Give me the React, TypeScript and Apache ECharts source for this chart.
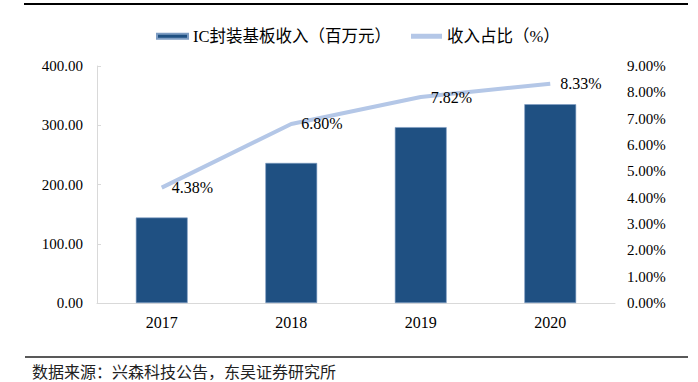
import React, { useEffect, useRef } from "react";
import * as echarts from "echarts";

const categories = ["2017", "2018", "2019", "2020"];
const revenue = [144.2, 236.4, 296.8, 335.5];
const share = [4.38, 6.8, 7.82, 8.33];
const leftTicks = { min: 0, max: 400, interval: 100 };
const rightTicks = { min: 0, max: 9, interval: 1 };
const barName = "IC封装基板收入（百万元）";
const lineName = "收入占比（%）";
const sourceText = "数据来源：兴森科技公告，东吴证券研究所";

const FONT = "'Liberation Serif', 'Times New Roman', 'Noto Sans CJK SC', serif";

export default function App() {
  const ref = useRef<HTMLDivElement>(null);
  useEffect(() => {
    if (!ref.current) return;
    const chart = echarts.init(ref.current, null, { renderer: "svg" });
    chart.setOption({
      animation: false,
      backgroundColor: "#ffffff",
      textStyle: { fontFamily: FONT },
      legend: {
        left: 151,
        top: 23,
        itemWidth: 31,
        itemHeight: 5,
        itemGap: 20,
        textStyle: { fontFamily: FONT, fontSize: 16.5, color: "#000" },
        data: [
          { name: barName, icon: "rect" },
          { name: lineName, icon: "path://M0 0H31V5H0Z" },
        ],
      },
      grid: { left: 97, right: 83, top: 66, bottom: 79, containLabel: false },
      xAxis: {
        type: "category",
        data: categories,
        axisLine: { lineStyle: { color: "#d9d9d9", width: 1 } },
        axisTick: { inside: true, length: 4, lineStyle: { color: "#d9d9d9" } },
        axisLabel: { fontFamily: FONT, fontSize: 16, color: "#000", margin: 11 },
      },
      yAxis: [
        {
          type: "value",
          min: leftTicks.min,
          max: leftTicks.max,
          interval: leftTicks.interval,
          splitLine: { show: false },
          axisLine: { show: true, lineStyle: { color: "#d9d9d9" } },
          axisTick: { show: true, inside: true, length: 4, lineStyle: { color: "#d9d9d9" } },
          axisLabel: {
            fontFamily: FONT,
            fontSize: 15,
            color: "#000",
            margin: 14,
            formatter: (v: number) => v.toFixed(2),
          },
        },
        {
          type: "value",
          min: rightTicks.min,
          max: rightTicks.max,
          interval: rightTicks.interval,
          splitLine: { show: false },
          axisLine: { show: false },
          axisTick: { show: false },
          axisLabel: {
            fontFamily: FONT,
            fontSize: 15,
            color: "#000",
            margin: 12,
            formatter: (v: number) => v.toFixed(2) + "%",
          },
        },
      ],
      series: [
        {
          name: barName,
          type: "bar",
          data: revenue,
          barWidth: "40%",
          itemStyle: { color: "#1f5082", borderColor: "#7d9cc2", borderWidth: 0.6 },
        },
        {
          name: lineName,
          type: "line",
          yAxisIndex: 1,
          data: share,
          symbol: "circle",
          symbolSize: 0.01,
          showSymbol: true,
          lineStyle: { color: "#b4c7e7", width: 4 },
          itemStyle: { color: "#b4c7e7" },
          label: {
            show: true,
            position: "right",
            distance: 10,
            fontFamily: FONT,
            fontSize: 16,
            color: "#000",
            formatter: (p: any) => p.value.toFixed(2) + "%",
          },
        },
      ],
      graphic: [
        {
          type: "line",
          shape: { x1: 24, y1: 4, x2: 688, y2: 4 },
          style: { stroke: "#000", lineWidth: 2 },
        },
        {
          type: "line",
          shape: { x1: 25, y1: 357, x2: 688, y2: 357 },
          style: { stroke: "#222", lineWidth: 1.5 },
        },
        {
          type: "text",
          x: 32,
          y: 371,
          style: {
            text: sourceText,
            fontFamily: "'Noto Sans CJK SC', sans-serif",
            fontSize: 16,
            fill: "#222",
            verticalAlign: "middle",
          },
        },
      ],
    });
    return () => chart.dispose();
  }, []);
  return (
    <div
      ref={ref}
      style={{ position: "fixed", left: 0, top: 0, width: 698, height: 382 }}
    />
  );
}
